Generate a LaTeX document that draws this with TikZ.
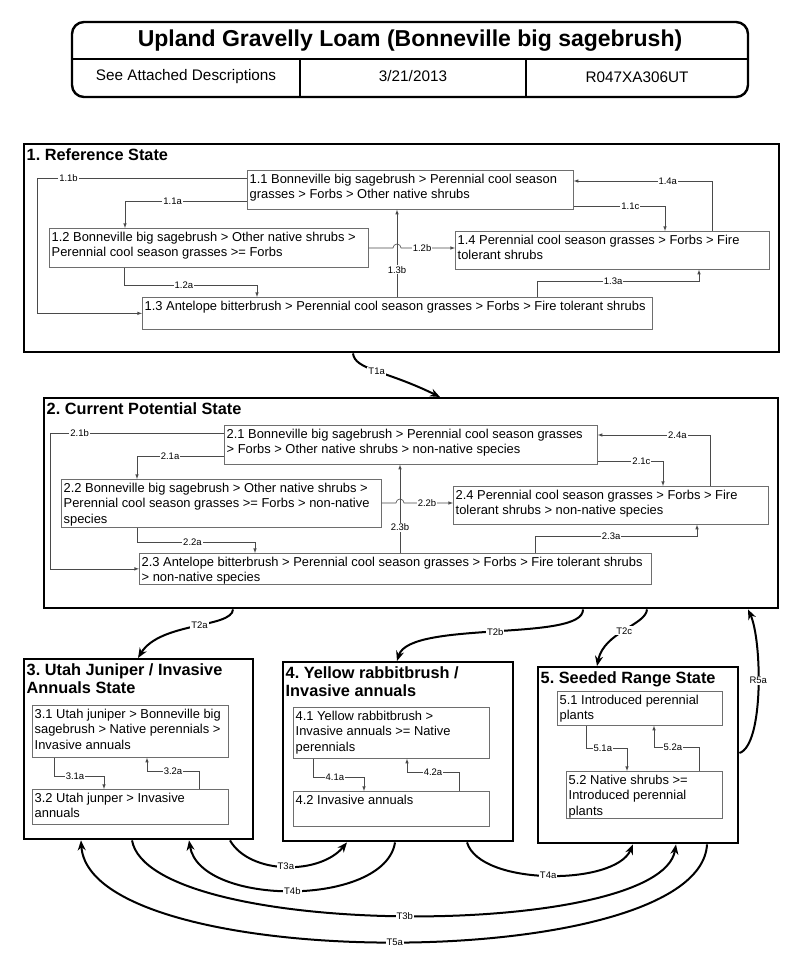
\documentclass[tikz,border=0pt]{standalone}
\usepackage{fontspec}
\setmainfont{Liberation Sans}
\usepackage{tikz}
\usetikzlibrary{calc}
\usetikzlibrary{positioning}
\usetikzlibrary{arrows.meta}
\definecolor{boxGray}{HTML}{6e6e6e}
\definecolor{lineGray}{HTML}{4a4a4a}
\newcommand{\commbox}[6]{
    \node (#1) [commrect, minimum width=#4pt, minimum height=#5pt, anchor=north west] at (#2,#3) {};
    \node (#1_text) [commtext, anchor=north west] at (#1.north west) {#6};
}
\newcommand{\statebox}[6]{
    \node (#1) [staterect, minimum width=#4pt, minimum height=#5pt, anchor=north west] at (#2,#3) {};
    \node (#1_title) [statetitle, anchor=north west] at (#1.north west) {#6};
}
\frenchspacing

\begin{document}
\begin{tikzpicture}[x=1pt, y=-1pt, align=left,
    commrect/.style={rectangle, draw=boxGray, line width=0.7pt, inner sep=0pt},
    commtext/.style={inner xsep=2.5pt, inner ysep=4pt, font=\fontsize{12.9}{15.3}\selectfont},
    staterect/.style={rectangle, draw, line width=2.4pt, inner sep=0pt},
    statetitle/.style={inner xsep=3.5pt, inner ysep=5pt, font=\bfseries\fontsize{16.3}{18.5}\selectfont},
    lab/.style={fill=white, inner sep=1pt, font=\fontsize{9.5}{10}\selectfont},
    conn/.style={draw=lineGray, line width=0.6pt, -latex},
    trans/.style={line width=2pt, -{Stealth[length=10pt, width=8pt]}}]
    \useasboundingbox (0,0) rectangle (800,965);

    % header
    \draw [line width=2.4pt, rounded corners=12pt] (72,22) rectangle (748,97);
    \draw [line width=2pt] (72,59) -- (748,59);
    \draw [line width=2pt] (300,59) -- (300,97);
    \draw [line width=2pt] (526,59) -- (526,97);
    \node (head_title) [font=\bfseries\fontsize{23}{26}\selectfont] at (410,41) {Upland Gravelly Loam (Bonneville big sagebrush)};
    \node (head_desc) [font=\fontsize{15.3}{18}\selectfont] at (186,77) {See Attached Descriptions};
    \node (head_date) [font=\fontsize{15.3}{18}\selectfont] at (413,76) {3/21/2013};
    \node (head_id) [font=\fontsize{15.3}{18}\selectfont] at (637,77) {R047XA306UT};

    % state 1
    \statebox{s1}{23}{143}{755}{208}{1. Reference State}
    \commbox{n11}{247}{170}{326}{39}{1.1 Bonneville big sagebrush > Perennial cool season\\grasses > Forbs > Other native shrubs}
    \commbox{n12}{49}{228}{319}{39}{1.2 Bonneville big sagebrush > Other native shrubs >\\Perennial cool season grasses >= Forbs}
    \commbox{n13}{142}{297}{510}{32}{1.3 Antelope bitterbrush > Perennial cool season grasses > Forbs > Fire tolerant shrubs}
    \commbox{n14}{455}{231}{314}{38}{1.4 Perennial cool season grasses > Forbs > Fire\\tolerant shrubs}

    \draw [conn] (n11.west |- 0,178) -- node[lab, pos=0.85] {1.1b} (37,178) |- (n13.west);
    \draw [conn] (n11.west |- 0,201) -- node[lab, pos=0.61] {1.1a} (125,201) -- (n12.north -| 125,0);
    \draw [conn] (n12.south -| 124,0) -- (124,285) -- node[lab, pos=0.45] {1.2a} (257,285) -- (n13.north -| 257,0);
    \draw [conn] (n12.east |- 0,248) -- (393,248) arc[start angle=180, end angle=360, radius=4] -- node[lab, pos=0.39] {1.2b} (n14.west |- 0,248);
    \draw [conn] (n13.north -| 397,0) -- node[lab, pos=0.31] {1.3b} (n11.south -| 397,0);
    \draw [conn] (n11.east |- 0,206) -- node[lab, pos=0.62] {1.1c} (665,206) -- (n14.north -| 665,0);
    \draw [conn] (n14.north -| 712,0) -- (712,181) -- node[lab, pos=0.32] {1.4a} (n11.east |- 0,181);
    \draw [conn] (n13.north -| 537,0) -- (537,281) -- node[lab, pos=0.47] {1.3a} (699,281) -- (n14.south -| 699,0);

    % state 2
    \statebox{s2}{43}{397}{734}{210}{2. Current Potential State}
    \commbox{n21}{224}{425}{373}{39}{2.1 Bonneville big sagebrush > Perennial cool season grasses\\> Forbs > Other native shrubs > non-native species}
    \commbox{n22}{61}{479}{320}{48}{2.2 Bonneville big sagebrush > Other native shrubs >\\Perennial cool season grasses >= Forbs > non-native\\species}
    \commbox{n23}{139}{553}{512}{31}{2.3 Antelope bitterbrush > Perennial cool season grasses > Forbs > Fire tolerant shrubs\\> non-native species}
    \commbox{n24}{453}{486}{315}{38}{2.4 Perennial cool season grasses > Forbs > Fire\\tolerant shrubs > non-native species}

    \draw [conn] (n21.west |- 0,433) -- node[lab, pos=0.83] {2.1b} (50,433) |- (n23.west);
    \draw [conn] (n21.west |- 0,456) -- node[lab, pos=0.62] {2.1a} (137,456) -- (n22.north -| 137,0);
    \draw [conn] (n22.south -| 137,0) -- (137,542) -- node[lab, pos=0.47] {2.2a} (255,542) -- (n23.north -| 255,0);
    \draw [conn] (n22.east |- 0,503) -- (396,503) arc[start angle=180, end angle=360, radius=4] -- node[lab, pos=0.47] {2.2b} (n24.west |- 0,503);
    \draw [conn] (n23.north -| 400,0) -- node[lab, pos=0.29] {2.3b} (n21.south -| 400,0);
    \draw [conn] (n21.east |- 0,461) -- node[lab, pos=0.67] {2.1c} (663,461) -- (n24.north -| 663,0);
    \draw [conn] (n24.north -| 710,0) -- (710,435) -- node[lab, pos=0.29] {2.4a} (n21.east |- 0,435);
    \draw [conn] (n23.north -| 535,0) -- (535,536) -- node[lab, pos=0.47] {2.3a} (697,536) -- (n24.south -| 697,0);

    % state 3
    \statebox{s3}{23}{658}{229}{180}{3. Utah Juniper / Invasive\\Annuals State}
    \commbox{n31}{32}{705}{196}{52}{3.1 Utah juniper > Bonneville big\\sagebrush > Native perennials >\\Invasive annuals}
    \commbox{n32}{32}{789}{196}{35}{3.2 Utah junper > Invasive\\annuals}
    \draw [conn] (n31.south -| 54,0) -- (54,776) -- node[lab, pos=0.42] {3.1a} (104,776) -- (n32.north -| 104,0);
    \draw [conn] (n32.north -| 199,0) -- (199,771) -- node[lab, pos=0.5] {3.2a} (147,771) -- (n31.south -| 147,0);

    % state 4
    \statebox{s4}{282}{661}{230}{179}{4. Yellow rabbitbrush /\\Invasive annuals}
    \commbox{n41}{293}{707}{196}{51}{4.1 Yellow rabbitbrush >\\Invasive annuals >= Native\\perennials}
    \commbox{n42}{293}{791}{196}{35}{4.2 Invasive annuals}
    \draw [conn] (n41.south -| 313,0) -- (313,777) -- node[lab, pos=0.43] {4.1a} (364,777) -- (n42.north -| 364,0);
    \draw [conn] (n42.north -| 459,0) -- (459,772) -- node[lab, pos=0.5] {4.2a} (407,772) -- (n41.south -| 407,0);

    % state 5
    \statebox{s5}{537}{666}{200}{176}{5. Seeded Range State}
    \commbox{n51}{557}{691}{165}{34}{5.1 Introduced perennial\\plants}
    \commbox{n52}{566}{771}{156}{47}{5.2 Native shrubs >=\\Introduced perennial\\plants}
    \draw [conn] (n51.south -| 586,0) -- (586,748) -- node[lab, pos=0.41] {5.1a} (627,748) -- (n52.north -| 627,0);
    \draw [conn] (n52.north -| 699,0) -- (699,747) -- node[lab, pos=0.58] {5.2a} (654,747) -- (n51.south -| 654,0);

    % transitions
    \draw [trans] (s1.south -| 353,0) .. controls (355,370) and (385,370) .. node[lab, pos=0.5] {T1a} (s2.north -| 440,0);
    \draw [trans] (s2.south -| 233,0) .. controls (232,628) and (160,622) .. node[lab, pos=0.45] {T2a} (s3.north -| 138,0);
    \draw [trans] (s2.south -| 583,0) .. controls (584,642) and (410,620) .. node[lab, pos=0.5] {T2b} (s4.north -| 397,0);
    \draw [trans] (s2.south -| 647,0) .. controls (646,625) and (604,632) .. node[lab, pos=0.5] {T2c} (s5.north -| 597,0);
    \draw [trans] (s5.east |- 0,753) .. controls (764,745) and (762,640) .. node[lab, pos=0.55] {R5a} (s2.south -| 748,0);
    \draw [trans] (s3.south -| 230,0) .. controls (250,875) and (320,875) .. node[lab, pos=0.5] {T3a} (s4.south -| 347,0);
    \draw [trans] (s4.south -| 395,0) .. controls (385,907) and (200,907) .. node[lab, pos=0.5] {T4b} (s3.south -| 189,0);
    \draw [trans] (s4.south -| 467,0) .. controls (480,886) and (615,886) .. node[lab, pos=0.5] {T4a} (s5.south -| 633,0);
    \draw [trans] (s3.south -| 132,0) .. controls (150,940) and (660,940) .. node[lab, pos=0.5] {T3b} (s5.south -| 676,0);
    \draw [trans] (s5.south -| 707,0) .. controls (700,975) and (90,975) .. node[lab, pos=0.5] {T5a} (s3.south -| 81,0);
\end{tikzpicture}
\end{document}
